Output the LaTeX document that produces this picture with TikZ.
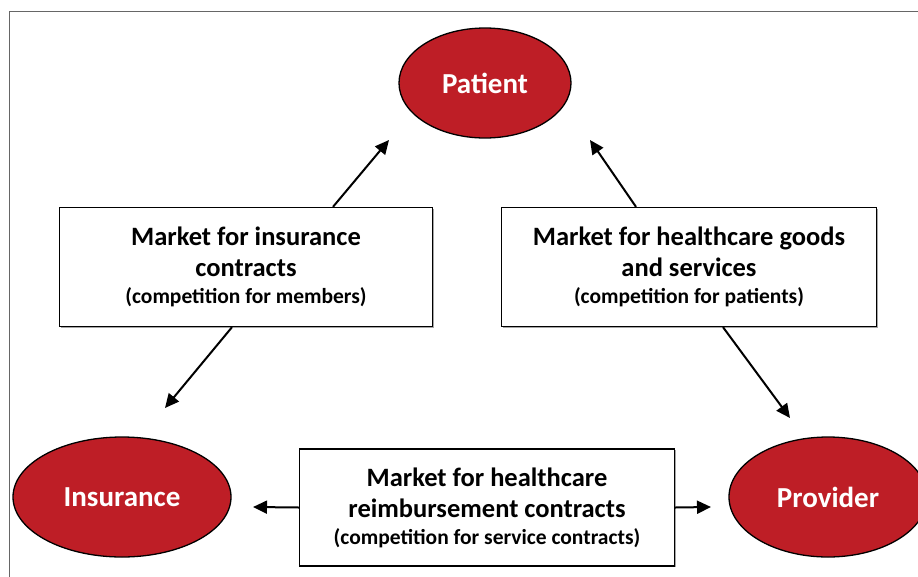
\documentclass[tikz,border=0pt]{standalone}
\usepackage{fontspec}
\setmainfont{Carlito}
\usetikzlibrary{arrows.meta,shapes.geometric,shadows}
\definecolor{nodered}{RGB}{190,30,38}
\newcommand{\mksub}{\fontsize{21.5}{31}\selectfont}
\begin{document}
\begin{tikzpicture}[x=1pt,y=-1pt,
  actor/.style={ellipse,draw=black,line width=1.3pt,fill=nodered,text=white,
    font=\fontsize{29}{34}\selectfont\bfseries,inner sep=0pt},
  market/.style={draw=black,line width=1.3pt,fill=white,inner sep=0pt,
    align=center,font=\fontsize{26.5}{31}\selectfont\bfseries,
    drop shadow={shadow xshift=1.2pt,shadow yshift=-1.2pt,fill=gray!70,opacity=1}},
  link/.style={line width=2pt,-{Triangle[length=14pt,width=13pt]}}]
\useasboundingbox (0,0) rectangle (918,576);
\draw[gray!80!black,line width=1pt] (9,11) rectangle (940,600);
% actors
\node[actor,minimum width=172pt,minimum height=110pt] (P) at (485,83) {Patient};
\node[actor,minimum width=218pt,minimum height=120pt] (I) at (122,497) {Insurance};
\node[actor,minimum width=198pt,minimum height=120pt] (R) at (828,497) {Provider};
% markets
\node[market,minimum width=373pt,minimum height=119pt] (MI) at (246,267)
  {Market for insurance\\contracts\\[-4pt]{\mksub (competition for members)}};
\node[market,minimum width=375pt,minimum height=119pt] (MH) at (689,267)
  {Market for healthcare goods\\and services\\[-4pt]{\mksub (competition for patients)}};
\node[market,minimum width=375pt,minimum height=117pt] (MR) at (487,507.5)
  {Market for healthcare\\reimbursement contracts\\[-4pt]{\mksub (competition for service contracts)}};
% endpoints
\coordinate (aP1) at (389,140);
\coordinate (aP2) at (590,140);
\coordinate (aI) at (165,408);
\coordinate (aR) at (790,418);
\coordinate (aI2) at (253,507);
\coordinate (aR2) at (711,507);
\draw[link] (MI.north -| 333,0) -- (aP1);
\draw[link] (MH.north -| 636,0) -- (aP2);
\draw[link] (MI.south -| 232,0) -- (aI);
\draw[link] (MH.south -| 723,0) -- (aR);
\draw[link] (MR.west) -- (aI2);
\draw[link] (MR.east) -- (aR2);
\end{tikzpicture}
\end{document}
